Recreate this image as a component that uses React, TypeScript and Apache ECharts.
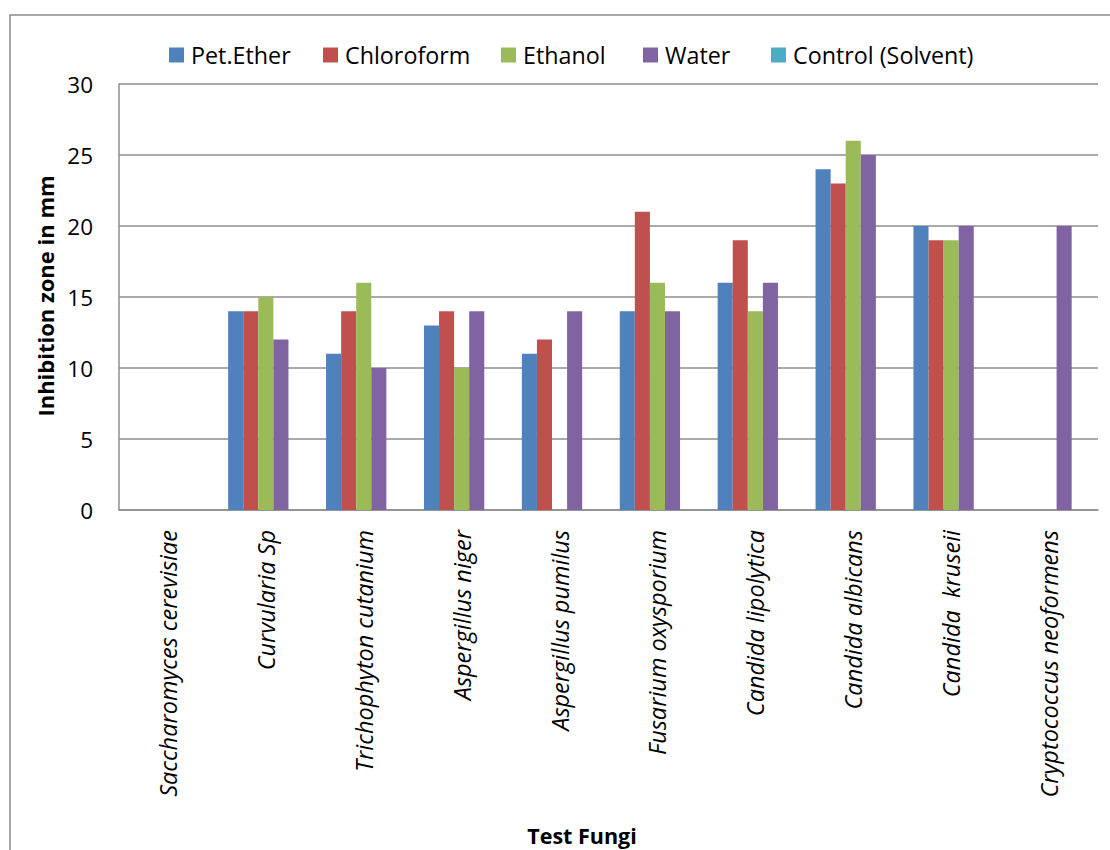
import React, { useEffect, useRef } from "react";
import * as echarts from "echarts";

const categories = [
  "Saccharomyces cerevisiae",
  "Curvularia Sp",
  "Trichophyton cutanium",
  "Aspergillus niger",
  "Aspergillus pumilus",
  "Fusarium oxysporium",
  "Candida lipolytica",
  "Candida albicans",
  "Candida  kruseii",
  "Cryptococcus neoformens",
];
const seriesNames = ["Pet.Ether", "Chloroform", "Ethanol", "Water", "Control (Solvent)"];
const petEther = [0, 14, 11, 13, 11, 14, 16, 24, 20, 0];
const chloroform = [0, 14, 14, 14, 12, 21, 19, 23, 19, 0];
const ethanol = [0, 15, 16, 10, 0, 16, 14, 26, 19, 0];
const water = [0, 12, 10, 14, 14, 14, 16, 25, 20, 20];
const control = [0, 0, 0, 0, 0, 0, 0, 0, 0, 0];
const colors = ["#4F81BD", "#C0504D", "#9BBB59", "#8064A2", "#4BACC6"];
const yTicks = { min: 0, max: 30, interval: 5 };

const FONT = "Open Sans";
const legendLefts = [169, 323, 501, 643, 771];

export default function App() {
  const ref = useRef<HTMLDivElement>(null);
  useEffect(() => {
    if (!ref.current) return;
    const chart = echarts.init(ref.current, null, { renderer: "svg" });
    const data = [petEther, chloroform, ethanol, water, control];
    chart.setOption({
      animation: false,
      textStyle: { fontFamily: FONT },
      color: colors,
      legend: seriesNames.map((name, i) => ({
        left: legendLefts[i],
        top: 43,
        padding: 0,
        itemWidth: 15,
        itemHeight: 15,
        itemGap: 0,
        icon: "rect",
        textStyle: { fontSize: 23.3, lineHeight: 24, color: "#000", fontFamily: FONT, padding: [0, 0, 0, 2] },
        data: [name],
      })),
      grid: { left: 119, top: 84, right: 12, bottom: 340, containLabel: false },
      xAxis: {
        type: "category",
        data: categories,
        axisLine: { lineStyle: { color: "#8e8e8e", width: 1.5 } },
        axisTick: { show: false },
        axisLabel: {
          rotate: 90,
          interval: 0,
          margin: 20,
          fontSize: 23.5,
          fontStyle: "italic",
          color: "#000",
          fontFamily: FONT,
        },
      },
      yAxis: {
        type: "value",
        min: yTicks.min,
        max: yTicks.max,
        interval: yTicks.interval,
        axisLine: { show: true, lineStyle: { color: "#8e8e8e", width: 1.5 } },
        axisTick: { show: false },
        splitLine: { lineStyle: { color: "#8e8e8e", width: 1.5 } },
        axisLabel: { fontSize: 22.5, color: "#000", margin: 26, fontFamily: FONT },
      },
      graphic: [
        {
          type: "rect",
          shape: { x: 10, y: 15, width: 1200, height: 900 },
          style: { fill: "none", stroke: "#8a8a8a", lineWidth: 1.5 },
          silent: true,
        },
        {
          type: "text",
          x: 45,
          y: 296,
          rotation: Math.PI / 2,
          style: {
            text: "Inhibition zone in mm",
            font: `bold 22px "${FONT}"`,
            fill: "#000",
            align: "center",
            verticalAlign: "middle",
          },
        },
        {
          type: "text",
          x: 582,
          y: 835,
          style: {
            text: "Test Fungi",
            font: `bold 21.5px "${FONT}"`,
            fill: "#000",
            align: "center",
            verticalAlign: "middle",
          },
        },
      ],
      series: seriesNames.map((name, i) => ({
        name,
        type: "bar",
        data: data[i],
        barGap: "0%",
        barCategoryGap: "23%",
        itemStyle: { color: colors[i] },
      })),
    });
    return () => chart.dispose();
  }, []);
  return (
    <div
      ref={ref}
      style={{ position: "fixed", left: 0, top: 0, width: 1110, height: 850, background: "#fff" }}
    />
  );
}
